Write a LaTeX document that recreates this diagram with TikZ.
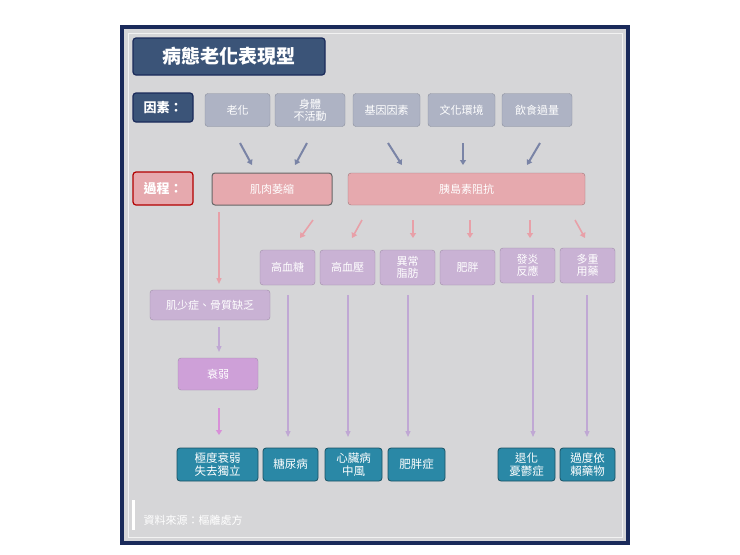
\documentclass[tikz,border=0pt]{standalone}
\usepackage{fontspec}
\setmainfont{Noto Sans CJK TC}
\usetikzlibrary{arrows.meta}
\definecolor{navy}{HTML}{3B5478}
\definecolor{frame}{HTML}{1A2A5A}
\definecolor{bgc}{HTML}{D6D6D8}
\definecolor{fac}{HTML}{AEB3C4}
\definecolor{pinkc}{HTML}{E6A9AE}
\definecolor{lav}{HTML}{C9B2D4}
\definecolor{teal}{HTML}{2A88A6}
\definecolor{slate}{HTML}{7A84A6}
\definecolor{parr}{HTML}{E8A0A8}
\definecolor{larr}{HTML}{C0A8D4}
\definecolor{marr}{HTML}{D890D8}
\tikzset{
 bx/.style={draw, rounded corners=3pt, inner sep=0pt, align=center, font=\fontsize{11}{12}\selectfont},
 hdr/.style={bx, fill=navy, draw=frame, line width=1.2pt, text=white, font=\fontsize{13}{14}\selectfont\bfseries},
 facb/.style={bx, fill=fac, draw=fac!80!black, text=white},
 pinkb/.style={bx, fill=pinkc, draw=pinkc!70!black, text=white},
 lavb/.style={bx, fill=lav, draw=lav!80!black, text=white},
 tealb/.style={bx, fill=teal, draw=teal!60!black, line width=0.8pt, text=white, font=\fontsize{11.5}{12.5}\selectfont},
 ar/.style={-{Triangle[width=6pt,length=5pt]}, line width=2pt},
 thin/.style={-{Triangle[width=5pt,length=6pt]}, line width=1.2pt}
}
\begin{document}
\begin{tikzpicture}[x=1pt,y=-1pt]
\useasboundingbox (0,0) rectangle (740,555);
\fill[white] (0,0) rectangle (740,555);
\fill[frame] (120,25) rectangle (630,545);
\fill[bgc] (124,29) rectangle (626,541);
\draw[white!90!gray] (128,33) rectangle (622,537);
\node[hdr, minimum width=192pt, minimum height=37pt, font=\fontsize{19}{20}\selectfont\bfseries] (title) at (229,56.5) {病態老化表現型};
\node[hdr, minimum width=60pt, minimum height=29pt] (yin) at (163,107.5) {因素：};
\node[facb, minimum width=65pt, minimum height=33pt] (f1) at (237.5,110) {老化};
\node[facb, minimum width=70pt, minimum height=33pt] (f2) at (310,110) {身體\\不活動};
\node[facb, minimum width=67pt, minimum height=33pt] (f3) at (386.5,110) {基因因素};
\node[facb, minimum width=67pt, minimum height=33pt] (f4) at (461.5,110) {文化環境};
\node[facb, minimum width=70pt, minimum height=33pt] (f5) at (537,110) {飲食過量};
\node[hdr, fill=pinkc, draw=red!70!black, minimum width=60pt, minimum height=33pt] (guo) at (163,188.5) {過程：};
\node[pinkb, draw=black!60, line width=1pt, minimum width=120pt, minimum height=32pt] (m1) at (272,189) {肌肉萎縮};
\node[pinkb, minimum width=237pt, minimum height=32pt] (m2) at (466.5,189) {胰島素阻抗};
\coordinate (a1s) at (240,143); \coordinate (a1e) at (252,165);
\coordinate (a2s) at (307,143); \coordinate (a2e) at (295,165);
\coordinate (a3s) at (388,143); \coordinate (a3e) at (402,165);
\coordinate (a4s) at (463,143); \coordinate (a4e) at (463,165);
\coordinate (a5s) at (540,143); \coordinate (a5e) at (527,165);
\foreach \i in {1,...,5} \draw[ar, slate] (a\i s) -- (a\i e);
\node[lavb, minimum width=55pt, minimum height=35pt] (r1) at (287.5,267.5) {高血糖};
\node[lavb, minimum width=55pt, minimum height=35pt] (r2) at (347.5,267.5) {高血壓};
\node[lavb, minimum width=55pt, minimum height=35pt] (r3) at (407.5,267.5) {異常\\脂肪};
\node[lavb, minimum width=55pt, minimum height=35pt] (r4) at (467.5,267.5) {肥胖};
\node[lavb, minimum width=55pt, minimum height=35pt] (r5) at (527.5,265.5) {發炎\\反應};
\node[lavb, minimum width=55pt, minimum height=35pt] (r6) at (587.5,265.5) {多重\\用藥};
\coordinate (b1s) at (313,220); \coordinate (b1e) at (300,238);
\coordinate (b2s) at (362,220); \coordinate (b2e) at (352,238);
\coordinate (b3s) at (413,220); \coordinate (b3e) at (413,238);
\coordinate (b4s) at (470,220); \coordinate (b4e) at (470,238);
\coordinate (b5s) at (530,220); \coordinate (b5e) at (530,238);
\coordinate (b6s) at (575,220); \coordinate (b6e) at (585,238);
\foreach \i in {1,...,6} \draw[ar, line width=1.6pt, parr] (b\i s) -- (b\i e);
\node[lavb, minimum width=120pt, minimum height=30pt] (s1) at (210,305) {肌少症、骨質缺乏};
\node[lavb, fill=lav!90!magenta, minimum width=80pt, minimum height=32pt] (s2) at (218,374) {衰弱};
\coordinate (p1) at (219,212); \coordinate (p2) at (219,284);
\draw[thin, parr, line width=1.4pt] (p1) -- (p2);
\draw[thin, larr] (219,327) -- (219,352);
\draw[ar, marr] (219,408) -- (219,435);
\node[tealb, minimum width=81pt, minimum height=33pt] (t1) at (217.5,464.5) {極度衰弱\\失去獨立};
\node[tealb, minimum width=55pt, minimum height=33pt] (t2) at (290.5,464.5) {糖尿病};
\node[tealb, minimum width=57pt, minimum height=33pt] (t3) at (353.5,464.5) {心臟病\\中風};
\node[tealb, minimum width=57pt, minimum height=33pt] (t4) at (416.5,464.5) {肥胖症};
\node[tealb, minimum width=57pt, minimum height=33pt] (t5) at (526.5,464.5) {退化\\憂鬱症};
\node[tealb, minimum width=55pt, minimum height=33pt] (t6) at (587.5,464.5) {過度依\\賴藥物};
\draw[thin, larr] (288,295) -- (288,437);
\draw[thin, larr] (348,295) -- (348,437);
\draw[thin, larr] (408,295) -- (408,437);
\draw[thin, larr] (533,295) -- (533,437);
\draw[thin, larr] (587,295) -- (587,437);
\fill[white] (132,500) rectangle (135,530);
\node[anchor=west, text=white, font=\fontsize{11}{12}\selectfont] (src) at (140,520) {資料來源：樞離處方};
\end{tikzpicture}
\end{document}
